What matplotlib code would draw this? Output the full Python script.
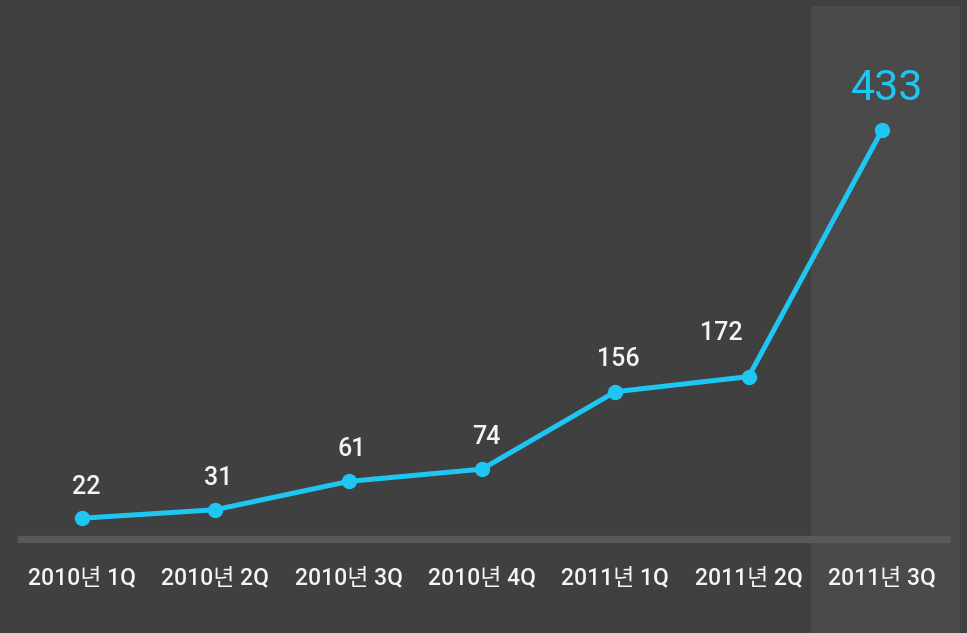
import matplotlib
matplotlib.use("Agg")
import matplotlib.pyplot as plt
from matplotlib.patches import Rectangle

categories = ["2010년 1Q", "2010년 2Q", "2010년 3Q", "2010년 4Q", "2011년 1Q", "2011년 2Q", "2011년 3Q"]
values = [22, 31, 61, 74, 156, 172, 433]
value_labels = ["22", "31", "61", "74", "156", "172", "433"]

# label offsets in pixels (style only)
label_offsets = [(4, 31), (3, 32), (3, 32), (4, 32), (3, 33), (-27, 44), (5, 42)]

BG = "#404040"
BAND = "#4a4a4a"
AXIS = "#595959"
CYAN = "#1fc6f2"
TXT = "#f4f4f4"
FONT = ["Roboto", "Noto Sans CJK KR", "DejaVu Sans"]

plt.rcParams['font.family'] = FONT

fig = plt.figure(figsize=(9.67, 6.33), dpi=100, facecolor=BG)
ax = fig.add_axes([0, 0, 1, 1])
ax.set_facecolor(BG)
ax.set_xlim(-0.615, 6.6375)
ax.set_ylim(-99.6, 571.0)
ax.axis("off")

x = list(range(len(values)))
# highlight band behind last category
ax.add_patch(Rectangle((5.4675, -200), 1.1175, 564.6 + 200, facecolor=BAND, edgecolor="none", zorder=0))
# baseline
ax.plot([-0.4875, 6.51], [0, 0], color=AXIS, lw=5.2, solid_capstyle="butt", zorder=1)

ax.plot(x, values, color=CYAN, lw=3.6, marker="o", markersize=10, zorder=3,
        solid_capstyle="round", solid_joinstyle="round")

for i, (v, lab) in enumerate(zip(values, value_labels)):
    dx, dy = label_offsets[i]
    last = i == len(values) - 1
    ax.annotate(lab, (i, v), xytext=(dx, dy), textcoords="offset pixels",
                ha="center", va="center",
                color=CYAN if last else TXT,
                fontsize=31 if last else 18,
                fontweight="normal" if last else "medium",
                family=FONT, zorder=4)

for i, c in enumerate(categories):
    ax.annotate(c, (i, 0), xytext=(0, -39), textcoords="offset pixels",
                ha="center", va="center", color=TXT, fontsize=16.5,
                fontweight="medium", family=FONT)

fig.savefig("out.png", dpi=100, facecolor=BG)
